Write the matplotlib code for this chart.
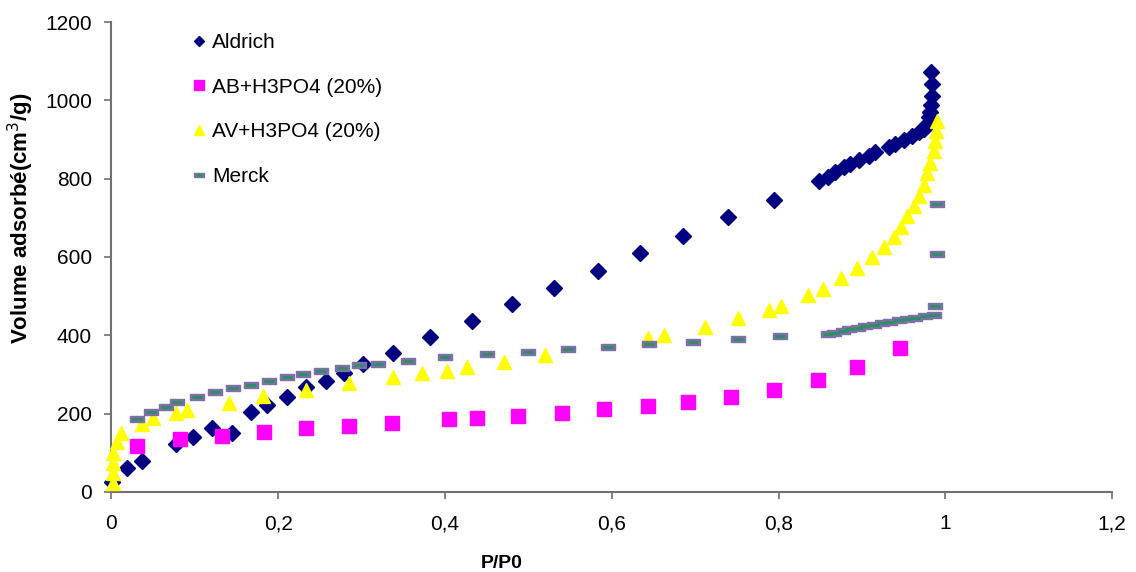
import matplotlib
matplotlib.use("Agg")
import matplotlib.pyplot as plt
from matplotlib.lines import Line2D


plt.rcParams['font.family'] = ['Liberation Sans', 'DejaVu Sans']

# isotherm points, P/P0 against adsorbed volume (cm3/g)
aldrich_x = [0.001, 0.019, 0.037, 0.077, 0.098, 0.121, 0.145, 0.167, 0.187, 0.211,
             0.233, 0.257, 0.279, 0.302, 0.338, 0.382, 0.432, 0.481, 0.531, 0.583,
             0.634, 0.685, 0.740, 0.794, 0.848, 0.859, 0.868, 0.878, 0.886, 0.896,
             0.908, 0.916, 0.932, 0.940, 0.950, 0.960, 0.968, 0.974, 0.978, 0.980,
             0.982, 0.983, 0.984, 0.984, 0.983]
aldrich_y = [25, 61, 79, 123, 140, 163, 151, 204, 222, 243,
             268, 283, 304, 327, 355, 396, 437, 480, 521, 564,
             610, 654, 702, 745, 794, 804, 817, 830, 838, 848,
             858, 868, 880, 888, 898, 908, 919, 926, 939, 957,
             970, 988, 1011, 1041, 1072]

ab_x = [0.031, 0.082, 0.133, 0.183, 0.234, 0.285, 0.337, 0.405, 0.439, 0.488,
        0.540, 0.591, 0.643, 0.692, 0.743, 0.794, 0.847, 0.894, 0.946]
ab_y = [117, 135, 143, 153, 163, 168, 176, 186, 189, 194,
        202, 212, 220, 230, 243, 260, 286, 319, 368]

av_x = [0.002, 0.002, 0.002, 0.002, 0.007, 0.011, 0.037, 0.050, 0.077, 0.091,
        0.141, 0.182, 0.234, 0.285, 0.338, 0.372, 0.403, 0.427, 0.471, 0.520,
        0.644, 0.663, 0.712, 0.751, 0.788, 0.803, 0.835, 0.853, 0.875, 0.894,
        0.912, 0.926, 0.938, 0.947, 0.954, 0.962, 0.968, 0.974, 0.978, 0.982,
        0.986, 0.988, 0.989, 0.990]
av_y = [23, 49, 74, 100, 128, 151, 174, 189, 202, 209,
        227, 245, 260, 278, 294, 304, 309, 319, 332, 350,
        393, 401, 421, 444, 465, 475, 503, 518, 546, 572,
        600, 625, 651, 677, 705, 730, 756, 784, 814, 840,
        871, 896, 922, 947]

merck_x = [0.031, 0.048, 0.066, 0.079, 0.103, 0.124, 0.146, 0.168, 0.189, 0.211,
           0.230, 0.252, 0.277, 0.297, 0.320, 0.356, 0.400, 0.450, 0.499, 0.548,
           0.596, 0.645, 0.697, 0.751, 0.802, 0.859, 0.866, 0.877, 0.885, 0.895,
           0.904, 0.914, 0.924, 0.934, 0.944, 0.954, 0.964, 0.976, 0.986, 0.988,
           0.990, 0.990]
merck_y = [186, 204, 217, 230, 243, 255, 266, 273, 283, 294,
           301, 309, 317, 324, 327, 334, 345, 352, 357, 365,
           370, 378, 383, 391, 398, 403, 406, 411, 416, 419,
           424, 426, 431, 434, 439, 442, 444, 449, 452, 475,
           608, 735]

x_ticks = [0, 0.2, 0.4, 0.6, 0.8, 1.0, 1.2]
x_tick_labels = ['0', '0,2', '0,4', '0,6', '0,8', '1', '1,2']
y_ticks = [0, 200, 400, 600, 800, 1000, 1200]

# Merck points are a grey-violet box with a green dash on top
box = [(-1, -0.45), (1, -0.45), (1, 0.45), (-1, 0.45), (-1, -0.45)]

fig = plt.figure(figsize=(11.36, 5.72), dpi=100)
ax = fig.add_axes([0.098, 0.14, 0.881, 0.8215])

ax.plot(aldrich_x, aldrich_y, ls='none', marker='D', ms=7.8, color='#000080',
        mec='#000080', clip_on=False, zorder=3)
ax.plot(ab_x, ab_y, ls='none', marker='s', ms=10.5, color='#ff00ff',
        mec='#ff00ff', clip_on=False, zorder=3)
ax.plot(av_x, av_y, ls='none', marker='^', ms=10.5, color='#ffff00',
        mec='#ffff00', clip_on=False, zorder=3)
ax.plot(merck_x, merck_y, ls='none', marker=box, ms=10, color='#7f6fa8',
        mec='#7f6fa8', clip_on=False, zorder=4)
ax.plot(merck_x, merck_y, ls='none', marker='_', ms=7, mew=2, color='#2a9060',
        clip_on=False, zorder=5)

ax.set_xlim(0, 1.2)
ax.set_ylim(0, 1200)
ax.set_xticks(x_ticks)
ax.set_xticklabels(x_tick_labels)
ax.set_yticks(y_ticks)

for side in ['top', 'right']:
    ax.spines[side].set_visible(False)
for side in ['left', 'bottom']:
    ax.spines[side].set_color('#707070')
    ax.spines[side].set_linewidth(1.5)
ax.tick_params(axis='both', colors='#707070', labelcolor='black', labelsize=15,
               length=5, width=1.2, direction='out')
ax.tick_params(axis='y', pad=9)
ax.tick_params(axis='x', pad=11)

fig.text(0.442, 1 - 555 / 572, 'P/P0', fontsize=14, fontweight='bold',
         ha='center', va='top')
fig.text(0.018, 1 - 218 / 572, 'Volume adsorbé(cm$^3$/g)', fontsize=16,
         fontweight='bold', rotation=90, ha='center', va='center')

handles = [
    Line2D([], [], ls='none', marker='D', ms=7.8, color='#000080'),
    Line2D([], [], ls='none', marker='s', ms=10.5, color='#ff00ff'),
    Line2D([], [], ls='none', marker='^', ms=10.5, color='#ffff00'),
    (Line2D([], [], ls='none', marker=box, ms=10, color='#7f6fa8'),
     Line2D([], [], ls='none', marker='_', ms=7, mew=2, color='#2a9060')),
]
labels = ['Aldrich', 'AB+H3PO4 (20%)', 'AV+H3PO4 (20%)', 'Merck']
fig.legend(handles, labels, loc='upper left',
           bbox_to_anchor=(193 / 1136, 1 - 33 / 572), frameon=False,
           fontsize=15, markerscale=0.7, handlelength=0.6, handletextpad=0.3,
           labelspacing=1.23, borderpad=0, borderaxespad=0)

fig.savefig('out.png', dpi=100, facecolor='white')
